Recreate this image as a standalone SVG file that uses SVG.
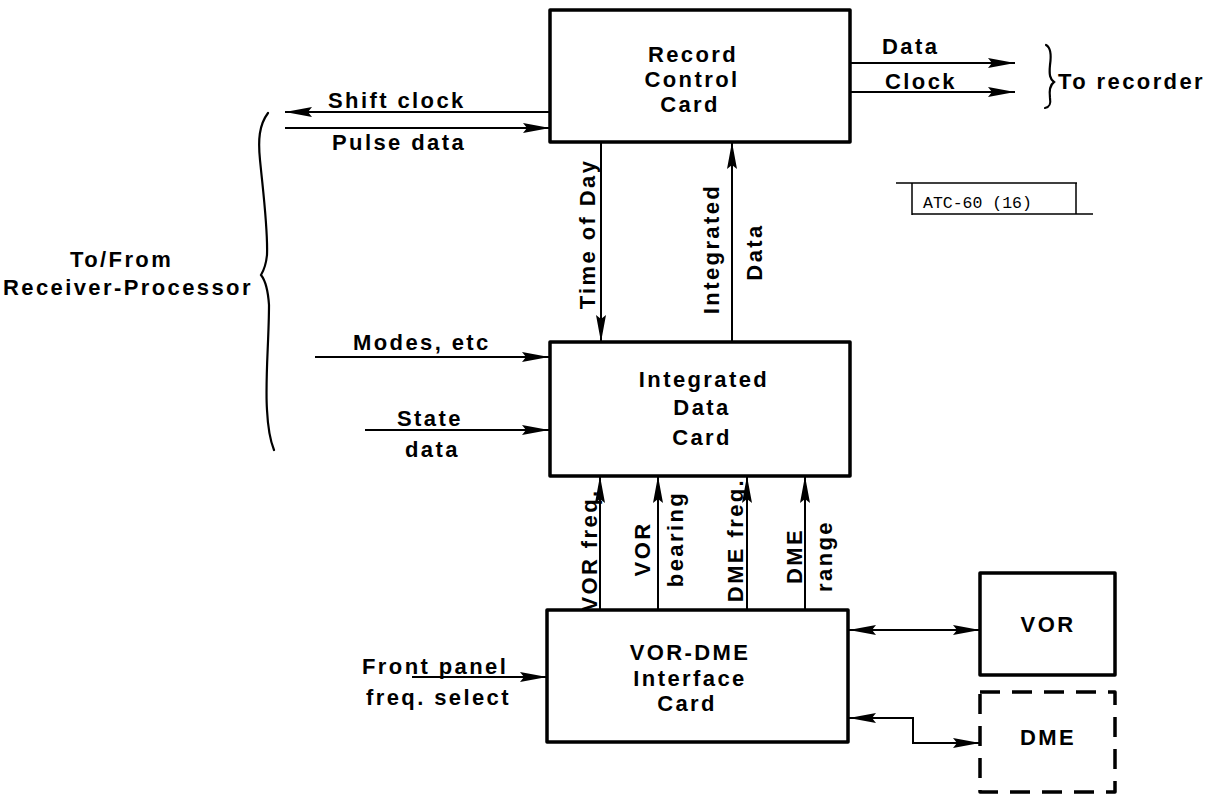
<svg xmlns="http://www.w3.org/2000/svg" width="1219" height="795" viewBox="0 0 1219 795">
<style>
  .box { fill: #fff; stroke: #000; stroke-width: 3.5; stroke-linejoin: round; }
  .dash { fill: #fff; stroke: #000; stroke-width: 3.5; stroke-dasharray: 20 12; stroke-linejoin: round; }
  .ln { fill: none; stroke: #000; stroke-width: 2; }
  .t { font-family: "Liberation Sans", Arial, sans-serif; font-size: 22px; font-weight: bold; letter-spacing: 2.4px; fill: #000; }
  .m { text-anchor: middle; }
  .mono { font-family: "Liberation Mono", "Courier New", monospace; font-size: 16.5px; fill: #000; }
  .br { fill: none; stroke: #000; stroke-width: 2.2; stroke-linecap: round; }
</style>
<defs>
  <marker id="ah" markerUnits="userSpaceOnUse" markerWidth="28" markerHeight="11" refX="27" refY="5.5" orient="auto-start-reverse">
    <path d="M0,0.5 L27,5.5 L0,10.5 L4,5.5 z" fill="#000"/>
  </marker>
</defs>
<rect width="1219" height="795" fill="#fff"/>

<g id="connectors">
  <line class="ln" x1="550" y1="112" x2="285" y2="112" marker-end="url(#ah)"/>
  <line class="ln" x1="285" y1="128" x2="550" y2="128" marker-end="url(#ah)"/>
  <line class="ln" x1="850" y1="63" x2="1015" y2="63" marker-end="url(#ah)"/>
  <line class="ln" x1="850" y1="92" x2="1015" y2="92" marker-end="url(#ah)"/>
  <line class="ln" x1="601" y1="142" x2="601" y2="342" marker-end="url(#ah)"/>
  <line class="ln" x1="732" y1="342" x2="732" y2="142" marker-end="url(#ah)"/>
  <line class="ln" x1="315" y1="357" x2="549" y2="357" marker-end="url(#ah)"/>
  <line class="ln" x1="365" y1="430" x2="549" y2="430" marker-end="url(#ah)"/>
  <line class="ln" x1="600" y1="610" x2="600" y2="476" marker-end="url(#ah)"/>
  <line class="ln" x1="658" y1="610" x2="658" y2="476" marker-end="url(#ah)"/>
  <line class="ln" x1="747" y1="610" x2="747" y2="476" marker-end="url(#ah)"/>
  <line class="ln" x1="805" y1="610" x2="805" y2="476" marker-end="url(#ah)"/>
  <line class="ln" x1="412" y1="677" x2="547" y2="677" marker-end="url(#ah)"/>
  <line class="ln" x1="849" y1="630" x2="980" y2="630" marker-start="url(#ah)" marker-end="url(#ah)"/>
  <path class="ln" d="M849,718 H913 V743 H980" marker-start="url(#ah)" marker-end="url(#ah)"/>
</g>

<g id="connector-labels">
  <text class="t" x="328" y="108">Shift clock</text>
  <text class="t" x="332" y="150">Pulse data</text>
  <text class="t" x="882" y="54">Data</text>
  <text class="t" x="885" y="89">Clock</text>
  <text class="t m" transform="translate(595,234) rotate(-90)">Time of Day</text>
  <text class="t m" transform="translate(719,249) rotate(-90)">Integrated</text>
  <text class="t m" transform="translate(762,252) rotate(-90)">Data</text>
  <text class="t" x="353" y="350">Modes, etc</text>
  <text class="t" x="397" y="426">State</text>
  <text class="t" x="405" y="457">data</text>
  <text class="t m" transform="translate(597,550) rotate(-90)">VOR freq.</text>
  <text class="t m" transform="translate(650,549) rotate(-90)">VOR</text>
  <text class="t m" transform="translate(683,539) rotate(-90)">bearing</text>
  <text class="t m" transform="translate(743,540) rotate(-90)">DME freq.</text>
  <text class="t m" transform="translate(802,556) rotate(-90)">DME</text>
  <text class="t m" transform="translate(832,556) rotate(-90)">range</text>
  <text class="t" x="362" y="674">Front panel</text>
  <text class="t" x="366" y="705">freq. select</text>
</g>

<g id="record-control-card">
  <rect class="box" x="550" y="10" width="300" height="132"/>
  <text class="t m" x="693" y="62">Record</text>
  <text class="t m" x="692" y="87">Control</text>
  <text class="t m" x="690" y="112">Card</text>
</g>

<g id="integrated-data-card">
  <rect class="box" x="550" y="342" width="300" height="134"/>
  <text class="t m" x="704" y="387">Integrated</text>
  <text class="t m" x="702" y="415">Data</text>
  <text class="t m" x="702" y="445">Card</text>
</g>

<g id="vor-dme-interface-card">
  <rect class="box" x="547" y="610" width="301" height="132"/>
  <text class="t m" x="690" y="660">VOR-DME</text>
  <text class="t m" x="690" y="686">Interface</text>
  <text class="t m" x="687" y="711">Card</text>
</g>

<g id="vor">
  <rect class="box" x="980" y="573" width="135" height="102"/>
  <text class="t m" x="1048" y="632">VOR</text>
</g>

<g id="dme">
  <rect class="dash" x="980" y="692" width="135" height="100"/>
  <text class="t m" x="1048" y="745">DME</text>
</g>

<g id="to-from-receiver-processor">
  <path class="br" d="M268,113 C259,125 258,140 260,160 C264,200 268,230 267,255 C266,265 264,270 261,275 C265,280 268,290 269,305 C269,340 265,380 267,410 C268,430 270,440 274,450"/>
  <text class="t" x="70" y="267">To/From</text>
  <text class="t" x="3" y="295">Receiver-Processor</text>
</g>

<g id="to-recorder">
  <path class="br" d="M1046,45 C1052,48 1051,58 1050,65 C1049,75 1050,79 1054,82 C1050,85 1049,90 1050,98 C1051,104 1050,107 1045,108"/>
  <text class="t" x="1058" y="89">To recorder</text>
</g>

<g id="atc-label">
  <path fill="none" stroke="#000" stroke-width="1.5" d="M896,183 H1077 M912,183 V215 M1076,183 V214 M912,214 H1093"/>
  <text class="mono" x="923" y="208">ATC-60 (16)</text>
</g>
</svg>
